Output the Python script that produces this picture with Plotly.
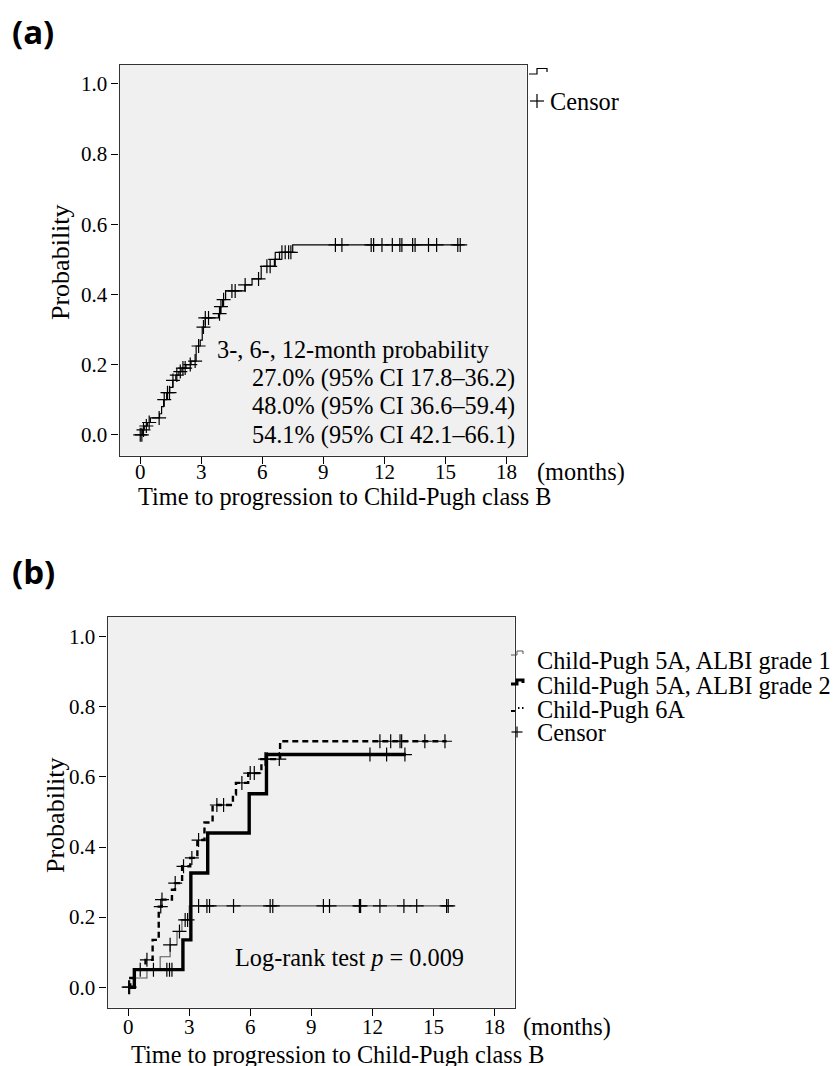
import numpy as np
import plotly.graph_objects as go

W, H = 834, 1066

# ---------------- Panel (a) data ----------------
a_t = [0, 0.1, 0.2, 0.35, 0.5, 0.95, 1.05, 1.15, 1.3, 1.45, 1.6, 1.75, 1.9, 2.05, 2.25, 2.5,
       2.75, 2.95, 3.05, 3.2, 3.85, 3.95, 4.05, 4.2, 5.15, 5.5, 5.95, 6.6, 6.85, 7.5]
a_p = [0, 0.014, 0.025, 0.035, 0.048, 0.06, 0.08, 0.1, 0.12, 0.135, 0.155, 0.17, 0.18, 0.19, 0.2, 0.21,
       0.253, 0.27, 0.307, 0.333, 0.345, 0.365, 0.385, 0.41, 0.427, 0.444, 0.48, 0.5, 0.52, 0.541]
a_end = 15.8
a_censor = [0.0, 0.08, 0.16, 0.3, 0.44, 0.93, 1.18, 1.34, 1.44, 1.61, 1.8, 1.97, 2.1, 2.21, 2.46,
            2.7, 2.87, 3.11, 3.2, 3.36, 3.9, 3.97, 4.1, 4.51, 4.67, 5.16, 5.82, 6.23, 6.39, 6.64,
            6.97, 7.13, 7.3, 7.41, 9.6, 9.92, 11.36, 11.48, 11.89, 12.4, 12.77, 12.87, 13.4,
            13.52, 14.18, 14.58, 15.62, 15.74]

# ---------------- Panel (b) data ----------------
g1_t = [0, 0.3, 0.92, 1.57, 2.06, 2.4, 2.64, 3.0]
g1_p = [0, 0.026, 0.05, 0.087, 0.121, 0.159, 0.192, 0.232]
g1_end = 15.78
g1_censor = [0.07, 2.06, 2.52, 2.8, 2.92, 3.46, 3.87, 4.0, 5.18, 6.98, 7.11, 9.6, 9.9,
             11.37, 11.43, 12.38, 13.56, 14.19, 15.66, 15.74]

g2_t = [0, 0.3, 2.69, 3.08, 3.91, 5.95, 6.8]
g2_p = [0, 0.05, 0.135, 0.326, 0.44, 0.552, 0.664]
g2_end = 13.65
g2_censor = [0.59, 1.24, 1.9, 2.03, 2.15, 11.89, 12.71, 13.61]

g3_t = [0, 0.1, 0.3, 0.85, 1.2, 1.5, 1.65, 2.15, 2.3, 2.65, 3.05, 3.4, 3.75, 4.15, 5.15,
        5.3, 5.9, 6.55, 7.47]
g3_p = [0, 0.026, 0.05, 0.078, 0.135, 0.23, 0.25, 0.278, 0.297, 0.345, 0.369, 0.42, 0.47,
        0.52, 0.55, 0.583, 0.611, 0.651, 0.702]
g3_end = 15.66
g3_censor = [0.02, 0.92, 1.6, 1.66, 2.31, 2.72, 3.13, 3.46, 4.36, 4.69, 5.59, 6.0, 6.2,
             6.73, 6.83, 7.43, 12.38, 12.91, 13.37, 13.45, 14.59, 15.58]

x_ticks = [0, 3, 6, 9, 12, 15, 18]
y_ticks = [0.0, 0.2, 0.4, 0.6, 0.8, 1.0]

annot_a = ["3-, 6-, 12-month probability",
           "27.0% (95% CI 17.8–36.2)",
           "48.0% (95% CI 36.6–59.4)",
           "54.1% (95% CI 42.1–66.1)"]
legend_b = ["Child-Pugh 5A, ALBI grade 1", "Child-Pugh 5A, ALBI grade 2", "Child-Pugh 6A", "Censor"]
x_title = "Time to progression to Child-Pugh class B"

SERIF = "Liberation Serif"
FS = 24.3
TFS = 21


def px(x):
    return x / W


def py(y):
    return 1 - y / H


def step_xy(t, p, end):
    return list(t) + [end], list(p) + [p[-1]]


def censor_y(t, p, ct):
    idx = np.searchsorted(np.array(t), np.array(ct), side="right") - 1
    return np.array(p)[idx]


fig = go.Figure()

# Panel (a)
x, y = step_xy(a_t, a_p, a_end)
fig.add_trace(go.Scatter(x=x, y=y, mode="lines", line=dict(color="black", width=1.2, shape="hv"),
                         xaxis="x", yaxis="y", showlegend=False, hoverinfo="skip"))
fig.add_trace(go.Scatter(x=a_censor, y=censor_y(a_t, a_p, a_censor), mode="markers",
                         marker=dict(symbol="cross-thin", size=10, line=dict(color="black", width=1.2)),
                         xaxis="x", yaxis="y", showlegend=False))

# Panel (b)
x, y = step_xy(g1_t, g1_p, g1_end)
fig.add_trace(go.Scatter(x=x, y=y, mode="lines", line=dict(color="#555555", width=1.1, shape="hv"),
                         xaxis="x2", yaxis="y2", showlegend=False))
x, y = step_xy(g3_t, g3_p, g3_end)
fig.add_trace(go.Scatter(x=x, y=y, mode="lines",
                         line=dict(color="black", width=2.4, shape="hv", dash="6px,4px"),
                         xaxis="x2", yaxis="y2", showlegend=False))
x, y = step_xy(g2_t, g2_p, g2_end)
fig.add_trace(go.Scatter(x=x, y=y, mode="lines", line=dict(color="black", width=3.4, shape="hv"),
                         xaxis="x2", yaxis="y2", showlegend=False))
for t, p, c in [(g1_t, g1_p, g1_censor), (g2_t, g2_p, g2_censor), (g3_t, g3_p, g3_censor)]:
    fig.add_trace(go.Scatter(x=c, y=censor_y(t, p, c), mode="markers",
                             marker=dict(symbol="cross-thin", size=10, line=dict(color="black", width=1.2)),
                             xaxis="x2", yaxis="y2", showlegend=False))

axis_common = dict(showgrid=False, zeroline=False, showline=True, mirror=True, linecolor="#333333",
                   linewidth=1.3, ticks="outside", ticklen=7, tickwidth=1, tickcolor="black",
                   tickfont=dict(family=SERIF, size=TFS, color="black"))

fig.update_layout(
    width=W, height=H, margin=dict(l=0, r=0, t=0, b=0),
    paper_bgcolor="white", plot_bgcolor="#f0f0f0", showlegend=False,
    xaxis=dict(domain=[px(119.5), px(526.5)], range=[-1.02, 19.0], tickvals=x_ticks,
               showticklabels=False, anchor="y", **axis_common),
    yaxis=dict(domain=[py(455.5), py(64.5)], range=[-0.059, 1.055], tickvals=y_ticks,
               tickformat=".1f", anchor="x", **axis_common),
    xaxis2=dict(domain=[px(107.5), px(514.5)], range=[-1.02, 19.0], tickvals=x_ticks,
                showticklabels=False, anchor="y2", **axis_common),
    yaxis2=dict(domain=[py(1007.5), py(616.5)], range=[-0.058, 1.058], tickvals=y_ticks,
                tickformat=".1f", anchor="x2", **axis_common),
)

ann = []


def text(x, y, s, xanchor="left", size=FS, family=SERIF, angle=0):
    ann.append(dict(x=px(x), y=py(y), xref="paper", yref="paper", text=s, showarrow=False,
                    xanchor=xanchor, yanchor="middle", textangle=angle,
                    font=dict(family=family, size=size, color="black")))


# x tick labels placed on the data axes
for xr, yy in [("x", 472), ("x2", 1027)]:
    for v in x_ticks:
        ann.append(dict(x=v, y=py(yy), xref=xr, yref="paper", text=str(v), showarrow=False,
                        xanchor="center", yanchor="middle",
                        font=dict(family=SERIF, size=TFS, color="black")))

# panel labels
text(10, 31, "<b>(a)</b>", size=33, family="Open Sans")
text(10, 571, "<b>(b)</b>", size=33, family="Open Sans")

# panel (a) texts
text(60, 262, "Probability", xanchor="center", angle=-90, size=26)
text(345, 496, x_title, xanchor="center")
text(535, 472, "(months)")
text(215, 350, annot_a[0])
text(517, 378, annot_a[1], xanchor="right")
text(517, 406.5, annot_a[2], xanchor="right")
text(517, 435, annot_a[3], xanchor="right")
text(548, 101, "Censor")

# panel (b) texts
text(55, 815, "Probability", xanchor="center", angle=-90, size=26)
text(338, 1054, x_title, xanchor="center")
text(521, 1027, "(months)")
text(349, 957, "Log-rank test <i>p</i> = 0.009", xanchor="center")
for yy, s in zip([660, 685, 709, 732], legend_b):
    text(535, yy, s)

fig.update_layout(annotations=ann)

# legend icons (layout decorations)
shapes = []


def path(d, width=1.2, color="black", dash="solid"):
    shapes.append(dict(type="path", xref="paper", yref="paper", path=d,
                       line=dict(color=color, width=width, dash=dash)))


def P(pts):
    return "M " + " L ".join(f"{px(a):.5f},{py(b):.5f}" for a, b in pts)


def plus(cx, cy, r):
    path(P([(cx - r, cy), (cx + r, cy)]))
    path(P([(cx, cy - r), (cx, cy + r)]))


path(P([(529, 74), (537, 74), (537, 68.5), (547, 68.5), (547, 72)]))
plus(537, 101, 7)

path(P([(511, 655), (517, 655), (517, 651), (523, 651), (523, 654)]), width=1, color="#555555")
path(P([(511, 684), (517, 684), (517, 680), (523, 680), (523, 683)]), width=3)
path(P([(511, 711), (515, 711)]), width=2)
path(P([(518, 708), (519.5, 708)]), width=2)
path(P([(522, 708), (523.5, 708)]), width=2)
plus(517, 732, 5.5)

fig.update_layout(shapes=shapes)

fig.write_html("out.html")
